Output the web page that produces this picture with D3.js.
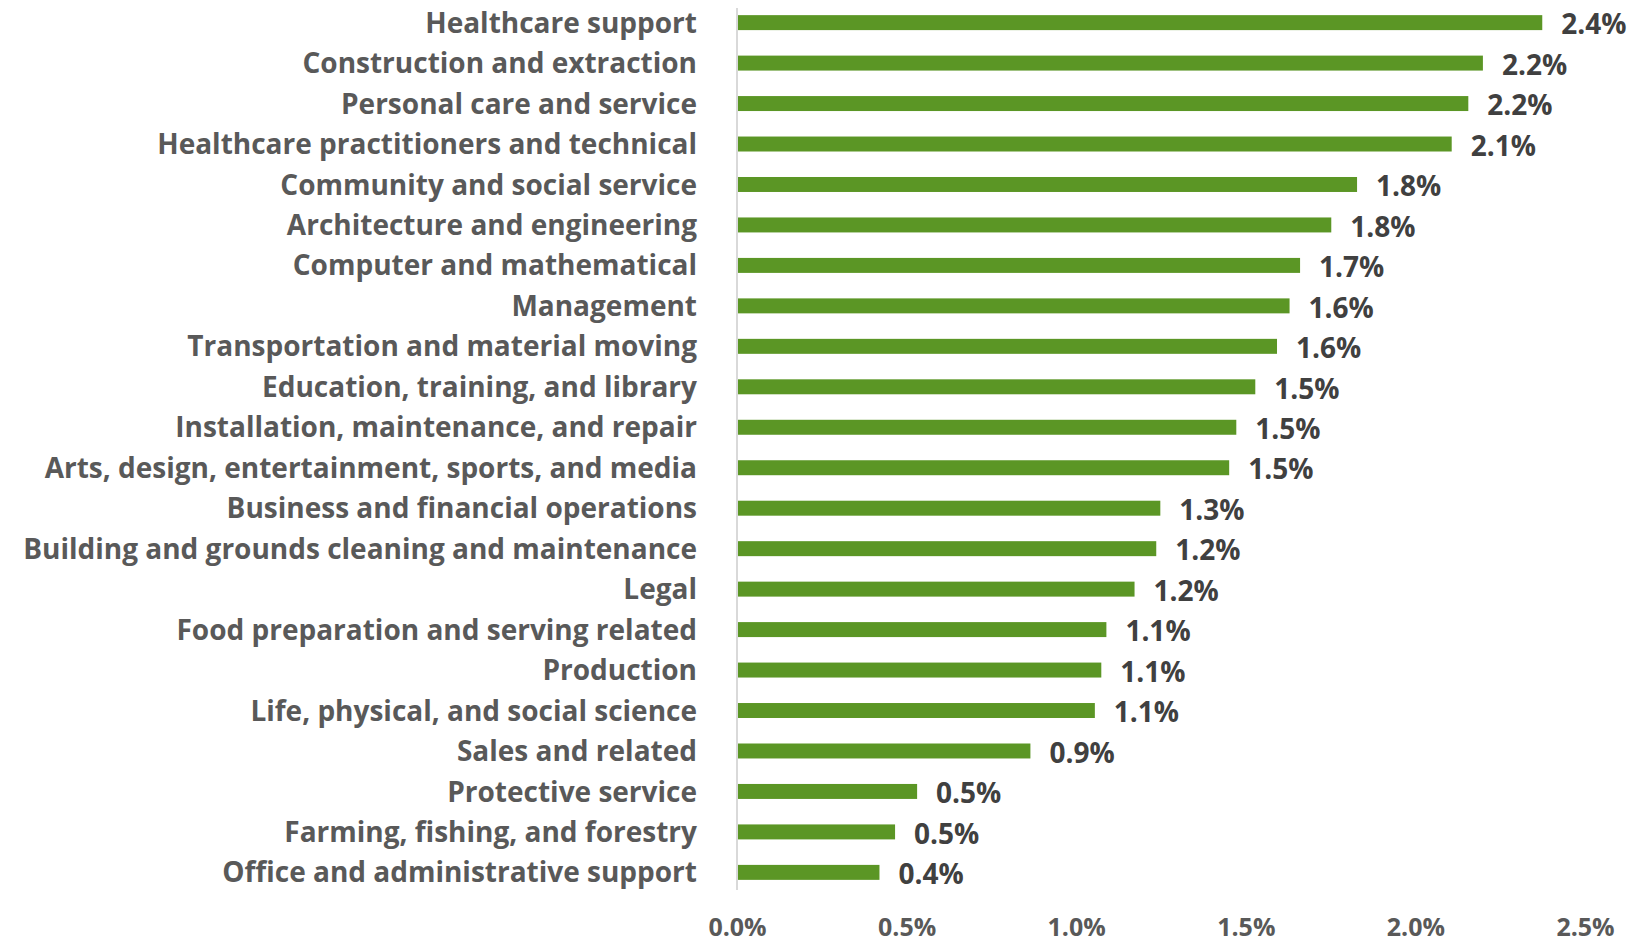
<!DOCTYPE html>
<html><head><meta charset="utf-8">
<script src="https://cdn.jsdelivr.net/npm/d3@7"></script>
<style>html,body{margin:0;padding:0;background:#fff;}svg{display:block;}</style>
</head><body>
<svg id="chart" width="1632" height="943"></svg>
<script>
const categories = [
  "Healthcare support","Construction and extraction","Personal care and service",
  "Healthcare practitioners and technical","Community and social service",
  "Architecture and engineering","Computer and mathematical","Management",
  "Transportation and material moving","Education, training, and library",
  "Installation, maintenance, and repair","Arts, design, entertainment, sports, and media",
  "Business and financial operations","Building and grounds cleaning and maintenance",
  "Legal","Food preparation and serving related","Production",
  "Life, physical, and social science","Sales and related","Protective service",
  "Farming, fishing, and forestry","Office and administrative support"
];
const values = [2.374,2.199,2.156,2.107,1.828,1.752,1.660,1.629,1.592,1.528,1.472,1.451,1.248,1.236,1.172,1.089,1.074,1.055,0.865,0.531,0.466,0.420];
const valueLabels = ["2.4%","2.2%","2.2%","2.1%","1.8%","1.8%","1.7%","1.6%","1.6%","1.5%","1.5%","1.5%","1.3%","1.2%","1.2%","1.1%","1.1%","1.1%","0.9%","0.5%","0.5%","0.4%"];
const tickValues = [0,0.5,1.0,1.5,2.0,2.5];
const tickLabels = ["0.0%","0.5%","1.0%","1.5%","2.0%","2.5%"];

const svg = d3.select("#chart");
const x = d3.scaleLinear().domain([0,2.5]).range([737,1585]);
const y = d3.scaleBand().domain(categories).range([3,892]).paddingInner(0.63).paddingOuter(0.3);
const font = "'Open Sans', 'Noto Sans', sans-serif";

svg.selectAll("rect.bar").data(categories).join("rect")
  .attr("class","bar")
  .attr("x", x(0))
  .attr("y", d => y(d))
  .attr("width", (d,i) => x(values[i]) - x(0))
  .attr("height", y.bandwidth())
  .attr("fill", "#5b9625");

// axis line
svg.append("line").attr("x1", x(0)).attr("x2", x(0)).attr("y1", 8).attr("y2", 890)
  .attr("stroke", "#d9d9d9").attr("stroke-width", 2);

// category labels
svg.selectAll("text.cat").data(categories).join("text")
  .attr("class","cat")
  .attr("x", 697)
  .attr("y", d => y(d) + y.bandwidth()/2)
  .attr("dy", "0.36em")
  .attr("text-anchor","end")
  .attr("font-family", font).attr("font-weight", 700).attr("font-size", 28)
  .attr("fill", "#595959")
  .text(d => d);

// value labels
svg.selectAll("text.val").data(categories).join("text")
  .attr("class","val")
  .attr("x", (d,i) => x(values[i]) + 19)
  .attr("y", d => y(d) + y.bandwidth()/2)
  .attr("dy", "0.42em")
  .attr("font-family", font).attr("font-weight", 700).attr("font-size", 28)
  .attr("fill", "#404040")
  .text((d,i) => valueLabels[i]);

// x axis ticks
const axis = d3.axisBottom(x).tickValues(tickValues).tickFormat((d,i) => tickLabels[i]).tickSize(0).tickPadding(0);
const g = svg.append("g").attr("transform", "translate(0,918)").call(axis);
g.select(".domain").remove();
g.selectAll("text").attr("font-family", font).attr("font-weight", 700).attr("font-size", 25).attr("fill", "#595959");
</script>
</body></html>
